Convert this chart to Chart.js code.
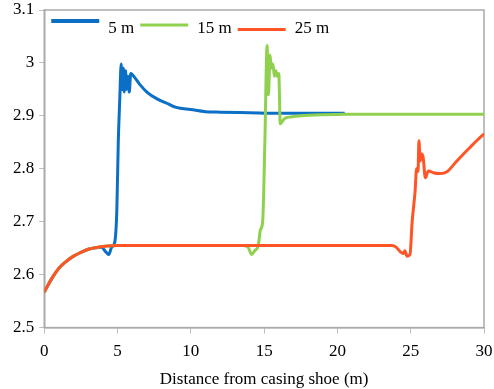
<!DOCTYPE html>
<html>
<head>
<meta charset="utf-8">
<script src="https://cdn.jsdelivr.net/npm/chart.js@4/dist/chart.umd.min.js"></script>
<style>
  html, body { margin:0; padding:0; background:#fff; }
  #wrap { width:494px; height:389px; }
</style>
</head>
<body>
<div id="wrap"><canvas id="chart" width="494" height="389"></canvas></div>
<script>
// Series values (distance in m, value)
const labels = ['5 m', '15 m', '25 m'];

const dist5 = [0, 0.5, 1, 1.5, 2, 2.5, 3, 3.5, 3.9, 4.2, 4.4, 4.6, 4.8, 4.95, 5.05, 5.15, 5.25, 5.3, 5.4, 5.45, 5.55, 5.6, 5.7, 5.8, 5.9, 6.1, 6.5, 7, 7.7, 8.5, 9, 10, 11, 12, 14, 16, 18, 20.5];
const val5  = [2.567, 2.592, 2.612, 2.625, 2.635, 2.642, 2.648, 2.651, 2.652, 2.643, 2.638, 2.652, 2.66, 2.72, 2.85, 2.93, 2.998, 2.95, 2.99, 2.945, 2.985, 2.95, 2.975, 2.945, 2.98, 2.975, 2.96, 2.945, 2.932, 2.922, 2.916, 2.912, 2.908, 2.907, 2.906, 2.905, 2.905, 2.905];

const dist15 = [0, 0.5, 1, 1.5, 2, 2.5, 3, 3.5, 4, 5, 8, 11, 13.5, 13.9, 14.15, 14.35, 14.6, 14.75, 14.9, 15.05, 15.2, 15.3, 15.4, 15.5, 15.6, 15.7, 15.8, 15.9, 16.0, 16.1, 16.2, 16.4, 16.8, 17.5, 19, 20.5, 22, 25, 30];
const val15  = [2.567, 2.592, 2.612, 2.625, 2.635, 2.642, 2.648, 2.651, 2.653, 2.655, 2.655, 2.655, 2.655, 2.652, 2.638, 2.645, 2.655, 2.685, 2.70, 2.85, 3.033, 2.94, 3.015, 2.99, 2.998, 2.975, 2.985, 2.975, 2.98, 2.885, 2.888, 2.895, 2.898, 2.9, 2.902, 2.903, 2.903, 2.903, 2.903];

const dist25 = [0, 0.25, 0.5, 1, 1.5, 2, 2.5, 3, 3.5, 4, 5, 10, 15, 20, 23.7, 24, 24.3, 24.5, 24.6, 24.75, 24.95, 25.1, 25.3, 25.4, 25.5, 25.56, 25.65, 25.75, 25.85, 26.0, 26.2, 26.6, 27, 27.5, 28, 28.6, 29.1, 29.5, 30];
const val25  = [2.567, 2.58, 2.592, 2.612, 2.625, 2.635, 2.642, 2.648, 2.651, 2.653, 2.655, 2.655, 2.655, 2.655, 2.655, 2.652, 2.643, 2.64, 2.645, 2.635, 2.638, 2.70, 2.758, 2.8, 2.795, 2.853, 2.815, 2.828, 2.821, 2.783, 2.796, 2.792, 2.791, 2.795, 2.81, 2.828, 2.842, 2.853, 2.866];

const xTicks = [0, 5, 10, 15, 20, 25, 30];
const yTicks = [2.5, 2.6, 2.7, 2.8, 2.9, 3.0, 3.1];

const colors = ['#0b6fc6', '#8fd14f', '#ff5526'];
const pts = (xs, ys) => xs.map((x, i) => ({ x, y: ys[i] }));

const serif = "'Liberation Serif', 'Times New Roman', serif";

// gray box round the plot area
const frame = {
  id: 'frame',
  beforeDatasetsDraw(chart){
    const { ctx, chartArea: a } = chart;
    ctx.save();
    ctx.strokeStyle = '#a9a9a9';
    ctx.lineWidth = 1.5;
    ctx.strokeRect(a.left, a.top, a.right - a.left, a.bottom - a.top);
    ctx.restore();
  }
};

// one-row legend inside the plot, lines slightly staggered like the original
const rowLegend = {
  id: 'rowLegend',
  afterDraw(chart){
    const { ctx, chartArea: a } = chart;
    ctx.save();
    ctx.font = `17px ${serif}`;
    ctx.textBaseline = 'alphabetic';
    ctx.fillStyle = '#000';
    let x = a.left + 7;
    const lineY = [11, 15, 19.5], widths = [4, 3, 3];
    labels.forEach((t, i) => {
      ctx.strokeStyle = colors[i];
      ctx.lineWidth = widths[i];
      ctx.beginPath();
      ctx.moveTo(x, a.top + lineY[i]);
      ctx.lineTo(x + 48, a.top + lineY[i]);
      ctx.stroke();
      x += 48 + 9;
      ctx.fillText(t, x, a.top + 23);
      x += ctx.measureText(t).width + 6;
    });
    ctx.restore();
  }
};

const mkSet = (i, xs, ys, order) => ({
  label: labels[i], data: pts(xs, ys),
  borderColor: colors[i], backgroundColor: colors[i],
  borderWidth: 3, pointRadius: 0, cubicInterpolationMode: 'monotone',
  order
});

const tickFont = { family: serif, size: 17, lineHeight: 1 };

new Chart(document.getElementById('chart'), {
  type: 'line',
  data: { datasets: [
    mkSet(0, dist5, val5, 2),
    mkSet(1, dist15, val15, 1),
    mkSet(2, dist25, val25, 0),
  ]},
  options: {
    responsive: false, animation: false,
    layout: { padding: { left: 8, right: 0, top: 3, bottom: -1 } },
    plugins: {
      tooltip: { enabled: false },
      legend: { display: false }
    },
    scales: {
      x: {
        type: 'linear', min: 0, max: 30,
        afterBuildTicks: (ax) => { ax.ticks = xTicks.map(v => ({ value: v })); },
        afterFit: (ax) => { ax.paddingRight = 10; ax.paddingLeft = 0; },
        ticks: { font: tickFont, color: '#000', padding: 9 },
        grid: { drawOnChartArea: false, tickLength: 6, color: '#bdbdbd' },
        border: { color: '#a9a9a9', width: 1.5 },
        title: { display: true, text: 'Distance from casing shoe (m)', font: { family: serif, size: 17 }, color: '#000', padding: { top: 1, bottom: 0 } }
      },
      y: {
        min: 2.5, max: 3.1,
        afterBuildTicks: (ax) => { ax.ticks = yTicks.map(v => ({ value: v })); },
        afterFit: (ax) => { ax.paddingTop = 10; ax.paddingBottom = 0; },
        ticks: { font: tickFont, color: '#000', padding: 5, callback: (v) => String(+Number(v).toFixed(1)) },
        grid: { drawOnChartArea: false, tickLength: 5, color: '#bdbdbd' },
        border: { color: '#a9a9a9', width: 1.5 }
      }
    }
  },
  plugins: [frame, rowLegend]
});
</script>
</body>
</html>
